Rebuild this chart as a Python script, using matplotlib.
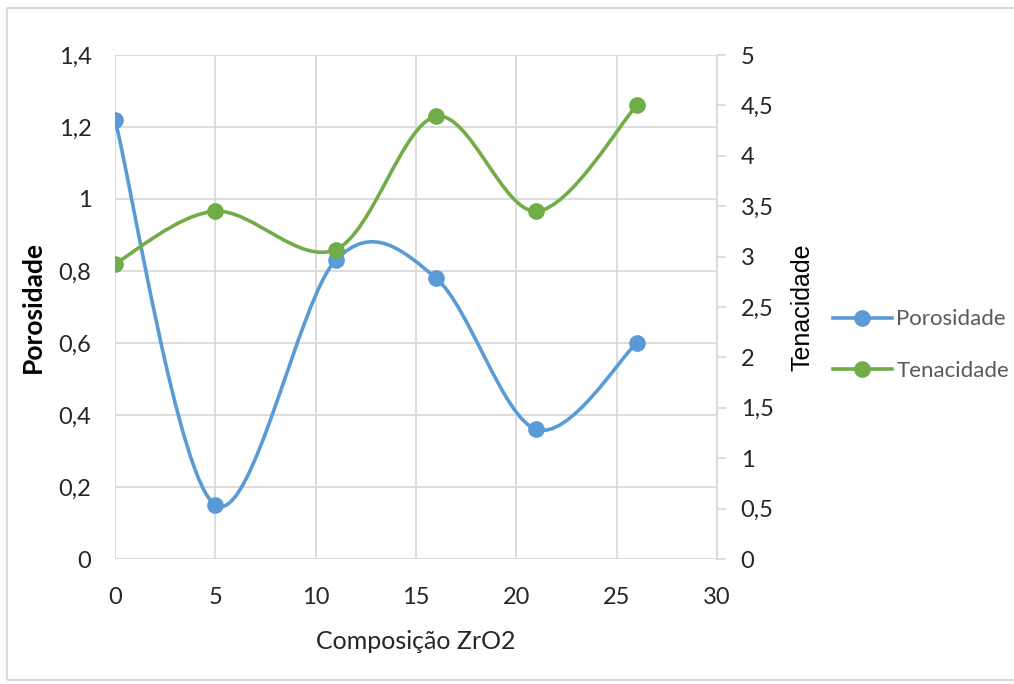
import matplotlib
matplotlib.use("Agg")
import matplotlib.pyplot as plt
import numpy as np
from matplotlib.path import Path
from matplotlib.patches import PathPatch, Rectangle
from matplotlib.lines import Line2D
from matplotlib.ticker import FuncFormatter, MultipleLocator

plt.rcParams['font.family'] = ['Lato', 'DejaVu Sans']

composicao = [0, 5, 11, 16, 21, 26]
porosidade = [1.22, 0.15, 0.83, 0.78, 0.36, 0.60]
tenacidade = [2.93, 3.45, 3.07, 4.39, 3.45, 4.50]

BLUE = '#5b9bd5'
GREEN = '#70ad47'
GRID = '#d9d9d9'
TXT = '#262626'
FS = 17


def smooth_path(x, y):
    """Cubic Bezier path through the points (Catmull-Rom style smoothing)."""
    x = np.asarray(x, float)
    y = np.asarray(y, float)
    n = len(x)
    verts = [(x[0], y[0])]
    codes = [Path.MOVETO]
    for i in range(n - 1):
        p0 = np.array([x[max(i - 1, 0)], y[max(i - 1, 0)]])
        p1 = np.array([x[i], y[i]])
        p2 = np.array([x[i + 1], y[i + 1]])
        p3 = np.array([x[min(i + 2, n - 1)], y[min(i + 2, n - 1)]])
        c1 = p1 + (p2 - p0) / 6.0
        c2 = p2 - (p3 - p1) / 6.0
        verts += [tuple(c1), tuple(c2), tuple(p2)]
        codes += [Path.CURVE4] * 3
    return Path(verts, codes)


fig = plt.figure(figsize=(10.14, 6.84), dpi=100)
fig.patches.append(Rectangle((7 / 1014, 4 / 684), 1.2, 1 - 12 / 684,
                             transform=fig.transFigure, fill=False,
                             edgecolor='#d9d9d9', linewidth=1.5))

ax = fig.add_axes([115 / 1014, 1 - 559 / 684, 602 / 1014, 504 / 684])
ax2 = ax.twinx()

ax.set_xlim(0, 30)
ax.set_ylim(0, 1.4)
ax2.set_ylim(0, 5)

ax.xaxis.set_major_locator(MultipleLocator(5))
ax.yaxis.set_major_locator(MultipleLocator(0.2))
ax2.yaxis.set_major_locator(MultipleLocator(0.5))

fmt = FuncFormatter(lambda v, p: ('%g' % round(v, 2)).replace('.', ','))
ax.yaxis.set_major_formatter(fmt)
ax2.yaxis.set_major_formatter(fmt)

ax.grid(True, color=GRID, linewidth=1.3)
for a in (ax, ax2):
    for s in a.spines.values():
        s.set_visible(False)
ax2.spines['right'].set_visible(True)
ax2.spines['right'].set_color(GRID)
ax2.spines['right'].set_linewidth(1.3)
ax.tick_params(axis='x', length=0, labelsize=FS, labelcolor=TXT, pad=20)
ax.tick_params(axis='y', length=0, labelsize=FS, labelcolor=TXT, pad=17)
ax2.tick_params(axis='y', length=6.5, color=GRID, width=1.3, labelsize=FS,
                labelcolor=TXT, pad=10.5)

# series
ax.add_patch(PathPatch(smooth_path(composicao, porosidade), fill=False,
                       edgecolor=BLUE, linewidth=2.6, zorder=3))
ax.plot(composicao, porosidade, 'o', color=BLUE, markersize=11, zorder=4)
ax2.add_patch(PathPatch(smooth_path(composicao, tenacidade), fill=False,
                        edgecolor=GREEN, linewidth=2.6, zorder=3))
ax2.plot(composicao, tenacidade, 'o', color=GREEN, markersize=11, zorder=4)

ax.set_xlabel('Composição ZrO2', fontsize=18, color=TXT, labelpad=16)
ax.set_ylabel('Porosidade', fontsize=19, fontweight='bold', color='black', labelpad=10)
ax2.set_ylabel('Tenacidade', fontsize=18, color='black', labelpad=12,
               family=['Liberation Sans', 'DejaVu Sans'])

handles = [Line2D([], [], color=BLUE, linewidth=2.6, marker='o', markersize=11),
           Line2D([], [], color=GREEN, linewidth=2.6, marker='o', markersize=11)]
fig.legend(handles, ['Porosidade', 'Tenacidade'], loc='center left',
           bbox_to_anchor=(813 / 1014, 1 - 345 / 684), frameon=False,
           fontsize=16, labelcolor='#595959', handlelength=2.65,
           handletextpad=0.2, labelspacing=1.4)

fig.savefig('out.png', dpi=100)
